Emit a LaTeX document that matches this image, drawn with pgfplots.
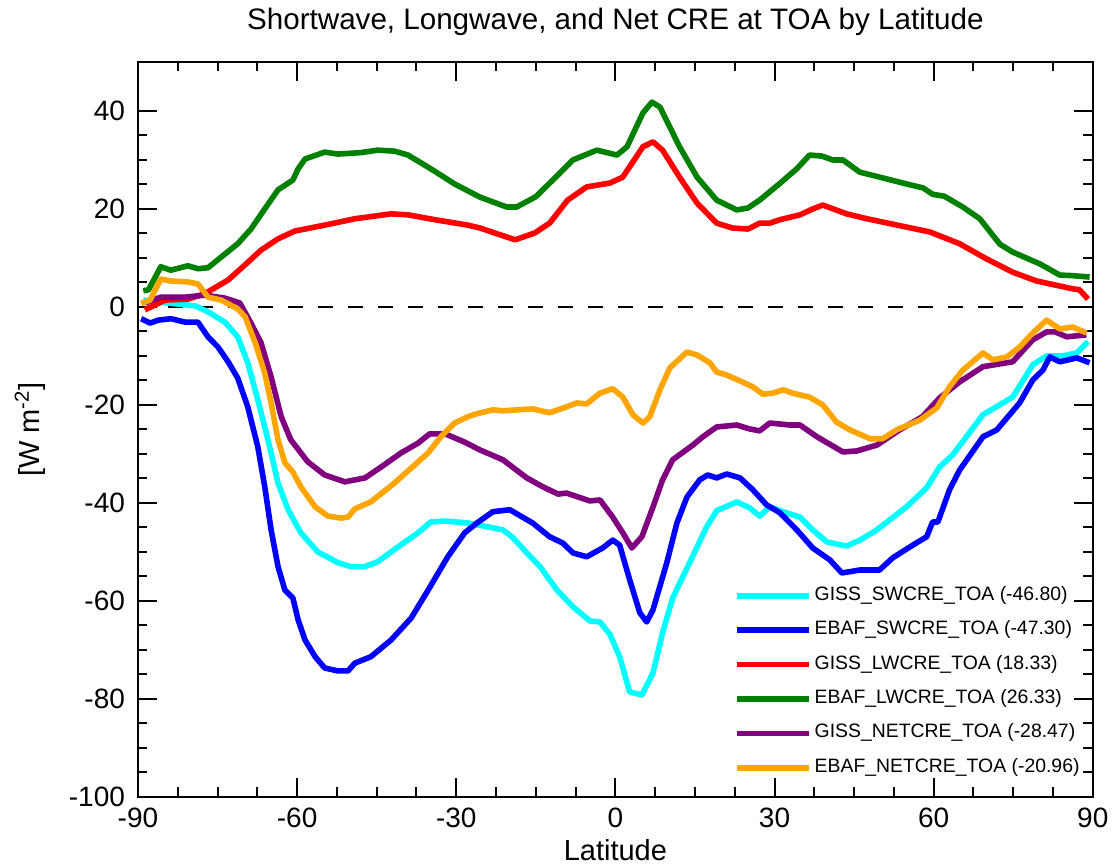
\documentclass[border=0pt]{standalone}
\usepackage{pgfplots}
\pgfplotsset{compat=1.18}
\usepackage{fontspec}
\setmainfont{Liberation Sans}

\definecolor{ccyan}{RGB}{0,255,255}
\definecolor{cblue}{RGB}{0,0,255}
\definecolor{cred}{RGB}{255,0,0}
\definecolor{cgreen}{RGB}{0,128,0}
\definecolor{cpurple}{RGB}{128,0,128}
\definecolor{corange}{RGB}{255,165,0}

\begin{document}
\begin{tikzpicture}
\begin{axis}[
  name=ax,
  scale only axis,
  width=477.5pt, height=367.5pt,
  xmin=-90, xmax=90, ymin=-100, ymax=50,
  xtick={-90,-60,...,90}, ytick={-100,-80,...,40},
  minor x tick num=3, minor y tick num=3,
  tick align=inside,
  major tick length=9.5pt, minor tick length=4.75pt,
  every tick/.style={black, line width=1pt},
  axis line style={line width=1pt},
  /pgf/number format/assume math mode=true,
  tick label style={font=\fontsize{14}{16}\selectfont},
  xticklabel style={yshift=-2pt},
  yticklabel style={xshift=-3pt},
  every axis title shift=0pt,
  title={Shortwave, Longwave, and Net CRE at TOA by Latitude},
  title style={font=\fontsize{14.8}{17}\selectfont, at={(axis description cs:0.5,1.054)}, anchor=center},
  xlabel={Latitude},
  xlabel style={font=\fontsize{14.5}{17}\selectfont, at={(axis description cs:0.5,-0.072)}, anchor=center},
  ylabel={[W m\textsuperscript{-2}]},
  ylabel style={font=\fontsize{14.5}{17}\selectfont, at={(axis description cs:-0.113,0.5)}, anchor=center, rotate=0},
  legend cell align=left,
  legend image code/.code={\draw[#1] (0pt,0pt) -- (36pt,0pt);},
  legend style={draw=none, fill=none, inner sep=0pt,
    at={(axis description cs:0.624,0.287)}, anchor=north west,
    font=\fontsize{9.7}{11}\selectfont, row sep=7.7pt,
    nodes={inner sep=0pt, text height=7pt, text depth=2.5pt},
    /tikz/every odd column/.append style={column sep=1.5pt}},
  every axis plot/.append style={line width=2.8pt, line join=round},
]
\addplot[black, line width=1pt, dash pattern=on 7.5pt off 7.5pt, forget plot] coordinates {(-90,0) (90,0)};

% GISS_SWCRE_TOA
\addplot[ccyan] coordinates {
(-89,1.4)(-86.2,1)(-82.5,0.6)(-79.1,0.2)(-76.8,-1)(-73.6,-3.1)(-71.2,-6.1)(-69.3,-11.4)
(-67.4,-19)(-65.5,-27.1)(-63.6,-35.9)(-61.7,-41.4)(-59.3,-46.1)(-56.1,-50)(-52.3,-52.2)
(-49.9,-53)(-47.2,-53)(-44.8,-52)(-41,-49)(-37.2,-46.1)(-34.8,-43.9)(-32.1,-43.7)
(-27.8,-44.1)(-21.2,-45.5)(-19.3,-47.1)(-16.7,-50.2)(-14.2,-53)(-11,-57.8)(-8,-61.2)
(-4.8,-64.1)(-2.9,-64.3)(-1,-66.9)(0.8,-71.4)(2.7,-78.6)(5,-79.2)(7.1,-74.7)(8.9,-66.5)
(10.8,-59.4)(14,-52.2)(17.2,-44.9)(19.1,-41.6)(22.9,-39.8)(25.3,-41)(27.2,-42.7)
(29.1,-40.8)(31.6,-41.8)(34.8,-42.9)(37.2,-45.5)(39.9,-48)(43.6,-48.8)(46.1,-47.6)
(49.3,-45.5)(54.9,-40.8)(58.7,-36.9)(61.1,-32.7)(63.6,-30.2)(69.3,-22)(74.9,-18.4)
(78.7,-11.8)(81.3,-10)(84.3,-10)(87,-9.4)(89.1,-7.1)};
\addlegendentry{GISS\_SWCRE\_TOA (-46.80)}

% EBAF_SWCRE_TOA
\addplot[cblue] coordinates {
(-89.4,-2.4)(-87.7,-3.3)(-86.2,-2.7)(-83.8,-2.4)(-81.1,-3.1)(-78.7,-3.1)(-76.8,-6.1)
(-74.9,-8.2)(-73,-11.2)(-71.2,-14.5)(-69.3,-20.4)(-67.4,-28.6)(-66.1,-36.7)(-64.9,-45.5)
(-63.6,-53)(-62.3,-57.8)(-60.8,-59.4)(-59.8,-63.9)(-58.5,-68)(-56.6,-71.4)(-54.8,-73.7)
(-52.3,-74.3)(-50.4,-74.3)(-49.1,-72.7)(-46.1,-71.4)(-42.3,-68)(-38.5,-63.5)(-35.3,-57.8)
(-31.6,-51)(-28.4,-46.1)(-26.1,-44.1)(-23.1,-41.8)(-19.9,-41.4)(-15.6,-44.1)(-12.4,-46.9)
(-9.9,-48.2)(-8,-50.2)(-5.4,-51)(-2.4,-49.2)(-0.5,-47.6)(0.8,-48.6)(2.7,-55.7)(4.6,-62.4)
(5.9,-64.3)(7.1,-61.8)(9.7,-52.2)(11.6,-44.1)(13.5,-38.8)(15.9,-35.3)(17.4,-34.3)
(19.1,-34.9)(21,-34.1)(23.5,-34.9)(25.9,-37.3)(28.5,-40.4)(31,-42)(34.2,-45.5)(37.2,-49.2)
(40.4,-51.6)(42.7,-54.3)(46.1,-53.7)(49.8,-53.7)(52.3,-51.2)(56.1,-48.6)(58.7,-46.9)
(59.8,-43.9)(60.8,-43.9)(63,-37.3)(64.9,-33.3)(69.3,-26.5)(71.9,-25.1)(76.2,-19.6)
(78.7,-14.9)(80.6,-12.9)(81.9,-10.2)(83.8,-11.2)(87,-10.4)(89.4,-11.4)};
\addlegendentry{EBAF\_SWCRE\_TOA (-47.30)}

% GISS_LWCRE_TOA
\addplot[cred] coordinates {
(-88.7,-0.6)(-84.9,1.4)(-80.6,1.6)(-77.4,2.7)(-73,5.5)(-69.8,8.6)(-66.8,11.6)(-63.6,13.9)
(-60.4,15.5)(-54.8,16.7)(-49.1,18)(-42.3,19)(-39.1,18.8)(-34,17.8)(-27.8,16.7)(-25.5,16.1)
(-18.9,13.7)(-15.2,15.1)(-12.4,17.1)(-9,21.8)(-5.4,24.5)(-1,25.3)(1.4,26.5)(5.2,32.7)
(7.1,33.7)(8.9,32)(12.1,26.5)(15.4,21.2)(19.1,17.1)(22.1,16.1)(25,15.9)(27.2,17.1)
(29.1,17.1)(31,17.8)(34.8,18.8)(37.2,20)(39.1,20.8)(43.6,19)(47.4,18)(54.9,16.3)
(59.3,15.3)(64.9,12.9)(70,9.8)(74.9,7.1)(79.4,5.3)(86.2,3.7)(87.5,3.5)(89.1,1.6)};
\addlegendentry{GISS\_LWCRE\_TOA (18.33)}

% EBAF_LWCRE_TOA
\addplot[cgreen] coordinates {
(-89,3.3)(-88,3.5)(-85.7,8.2)(-83.8,7.5)(-80.6,8.4)(-78.7,7.8)(-76.8,8)(-73.6,10.8)
(-71.2,12.9)(-68.7,15.9)(-66.1,20)(-63.6,23.9)(-60.8,25.9)(-59.8,28.2)(-58.5,30.2)
(-54.8,31.6)(-52.3,31.2)(-48,31.5)(-44.8,32)(-41.6,31.8)(-39.1,31)(-34.8,28.2)(-30.3,25.1)
(-25.5,22.4)(-20.5,20.4)(-18.6,20.4)(-15,22.5)(-11.8,25.9)(-8,30)(-3.5,32)(0.3,31)
(2.2,32.7)(5.2,39.6)(6.9,41.8)(8.4,40.8)(12.1,32.7)(15.4,26.5)(19.1,21.8)(22.9,19.8)
(25,20.2)(27.2,21.8)(31,25.2)(34.2,28.2)(36.6,31)(38.9,30.8)(41,30)(42.9,30)(46.1,27.5)
(49.8,26.5)(54.9,25.1)(58,24.3)(59.8,23)(62,22.6)(65.5,20.4)(68.7,18)(72.5,12.8)
(74.9,11.2)(80,8.8)(83.8,6.5)(86,6.4)(89.4,6.1)};
\addlegendentry{EBAF\_LWCRE\_TOA (26.33)}

% GISS_NETCRE_TOA
\addplot[cpurple] coordinates {
(-88.7,0.8)(-85.7,2)(-81.1,2)(-77.4,2.4)(-73.6,1.8)(-70.8,0.8)(-68.7,-3.3)(-66.8,-7.3)
(-64.9,-14.3)(-63,-22.4)(-61.2,-27.1)(-58,-31.6)(-54.8,-34.3)(-51,-35.7)(-47.2,-34.9)
(-44.2,-32.7)(-40.4,-29.8)(-37.2,-27.8)(-35,-25.9)(-32.1,-25.9)(-28.4,-27.6)(-25.5,-29.2)
(-21.2,-31.2)(-16.7,-34.9)(-13.7,-36.7)(-10.8,-38.2)(-9.2,-38)(-4.8,-39.6)(-2.9,-39.4)
(-0.5,-42.9)(1.4,-46.1)(3.1,-49.2)(5,-46.9)(7.1,-40.8)(8.9,-35.3)(10.8,-31.2)(14.6,-28.2)
(16.5,-26.5)(19.1,-24.5)(22.9,-24.1)(25.3,-24.9)(27.2,-25.3)(29.1,-23.7)(32.9,-24.1)
(34.8,-24.1)(38,-26.5)(42.9,-29.6)(45.5,-29.4)(49.3,-28.2)(53.6,-25.1)(57.9,-22.4)
(61.1,-18.6)(64.9,-15.3)(69.3,-12.2)(74.9,-11.2)(78.7,-6.7)(81.3,-5.1)(82.9,-5.1)
(85.1,-6.1)(88.8,-5.7)};
\addlegendentry{GISS\_NETCRE\_TOA (-28.47)}

% EBAF_NETCRE_TOA
\addplot[corange] coordinates {
(-89.4,0.7)(-87.7,1.4)(-85.7,5.7)(-83.8,5.3)(-80.6,5.1)(-78.7,4.7)(-76.8,2)(-74.3,1.4)
(-71.2,-0.4)(-69.8,-2)(-67.9,-7.3)(-66.1,-13.5)(-64.9,-19.6)(-63.6,-27.1)(-62.3,-31.8)
(-60.8,-33.7)(-59.3,-36.7)(-56.6,-40.8)(-54.2,-42.7)(-51.7,-43.1)(-50.4,-42.9)(-49.1,-41.2)
(-46.1,-39.8)(-41.6,-35.9)(-38.5,-32.9)(-35.3,-29.8)(-32.9,-26.5)(-30.3,-23.7)(-27.8,-22.4)
(-26.1,-21.8)(-23.1,-21)(-21.2,-21.2)(-15.6,-20.8)(-12.4,-21.6)(-9.2,-20.4)(-7.3,-19.6)
(-5.4,-19.8)(-2.9,-17.6)(-0.5,-16.7)(1.4,-18.4)(3.3,-22)(5.2,-23.7)(6.5,-22.4)(8.4,-16.9)
(10.3,-12.4)(13.5,-9.2)(15.4,-9.8)(17.8,-11.4)(19.1,-13.3)(21,-13.9)(23.5,-15.1)
(25.9,-16.3)(27.8,-17.8)(29.7,-17.6)(31.6,-16.9)(33.4,-17.6)(36.6,-18.4)(39.1,-20)
(41.7,-23.5)(44.2,-25.1)(48,-26.9)(50.4,-26.9)(53,-25.1)(57.4,-23.1)(60.6,-20.6)(63,-16.3)
(65.5,-12.9)(69.3,-9.4)(71.2,-10.8)(73.8,-10.2)(76.2,-8.2)(78.7,-5.3)(81.3,-2.7)
(83.8,-4.5)(86.2,-4.1)(88.8,-5.3)};
\addlegendentry{EBAF\_NETCRE\_TOA (-20.96)}
\end{axis}
\path ([xshift=-69pt,yshift=-33.5pt]ax.south west) rectangle ([xshift=11pt,yshift=31pt]ax.north east);
\end{tikzpicture}
\end{document}
